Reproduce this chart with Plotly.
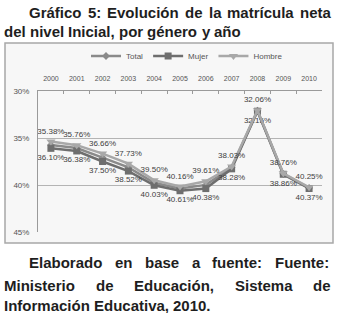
import plotly.graph_objects as go

# ---------------- data ----------------
years = ["2000", "2001", "2002", "2003", "2004", "2005", "2006", "2007", "2008", "2009", "2010"]
hombre = [35.38, 35.76, 36.66, 37.73, 39.50, 40.16, 39.61, 38.03, 32.06, 38.76, 40.25]
total = [35.74, 36.07, 37.08, 38.12, 39.76, 40.38, 39.99, 38.15, 32.10, 38.81, 40.31]
mujer = [36.10, 36.38, 37.50, 38.52, 40.03, 40.61, 40.38, 38.28, 32.15, 38.86, 40.37]
y_ticks = [30, 35, 40, 45]
y_tick_labels = ["30%", "35%", "40%", "45%"]

title_line1 = "Gráfico 5: Evolución de la matrícula neta"
title_line2 = "del nivel Inicial, por género y año"
foot_line1 = "Elaborado en base a fuente: Fuente:"
foot_line2 = "Ministerio de Educación, Sistema de"
foot_line3 = "Información Educativa, 2010."

# ---------------- geometry ----------------
W, H = 338, 313
L, R, T, B = 38, 16, 91, 81
PW = W - L - R
PH = H - T - B


def px(x):
    return (x - L) / PW


def py(y):
    return (H - B - y) / PH


# Arial / Liberation Sans Bold advance widths (per 1000 em)
CW = {" ": 278, ",": 278, ".": 278, ":": 333,
      "A": 722, "E": 667, "F": 611, "G": 778, "I": 278, "M": 833, "S": 667,
      "a": 556, "b": 611, "c": 556, "d": 611, "e": 556, "f": 333, "g": 611,
      "i": 278, "l": 278, "m": 889, "n": 611, "o": 611, "p": 611, "r": 389,
      "s": 556, "t": 333, "u": 611, "v": 556, "y": 556,
      "á": 556, "é": 556, "í": 278, "ó": 611, "ñ": 611}


def wwidth(word, size):
    return sum(CW.get(c, 556) for c in word) * size / 1000.0


FS = 15
annotations = []


def add_line(text, x0, y, x1=None, size=FS):
    words = text.split(" ")
    widths = [wwidth(w, size) for w in words]
    if x1 is None or len(words) < 2:
        gap = CW[" "] * size / 1000.0
    else:
        gap = (x1 - x0 - sum(widths)) / (len(words) - 1)
    x = x0
    for w, wd in zip(words, widths):
        annotations.append(dict(
            text=w, x=px(x - 1), y=py(y), xref="paper", yref="paper",
            xanchor="left", yanchor="middle", showarrow=False,
            font=dict(family="Liberation Sans, Arial, sans-serif", size=size,
                      color="#1e1e1e", weight="bold"),
        ))
        x += wd + gap


add_line(title_line1, 28, 12, 330)
add_line(title_line2, 3, 32)
add_line(foot_line1, 28, 262, 328)
add_line(foot_line2, 3, 285, 330)
add_line(foot_line3, 3, 305)

label_font = dict(family="Liberation Sans, Arial, sans-serif", size=8, color="#404040")

fig = go.Figure()
fig.add_trace(go.Scatter(
    x=years, y=total, name="Total", mode="lines+markers",
    line=dict(color="#8a8a8a", width=2.5),
    marker=dict(symbol="diamond", size=6, color="#8a8a8a"),
    cliponaxis=False,
))
fig.add_trace(go.Scatter(
    x=years, y=mujer, name="Mujer", mode="lines+markers+text",
    line=dict(color="#6e6e6e", width=2.5),
    marker=dict(symbol="square", size=7, color="#6e6e6e"),
    texttemplate="%{y:.2f}%", textposition="bottom center", textfont=label_font,
    cliponaxis=False,
))
fig.add_trace(go.Scatter(
    x=years, y=hombre, name="Hombre", mode="lines+markers+text",
    line=dict(color="#a8a8a8", width=2.5),
    marker=dict(symbol="triangle-down", size=8, color="#a8a8a8"),
    texttemplate="%{y:.2f}%", textposition="top center", textfont=label_font,
    cliponaxis=False,
))

shapes = [dict(
    type="rect", xref="paper", yref="paper",
    x0=px(5), x1=px(333), y0=py(43), y1=py(243),
    line=dict(color="#a8a8a8", width=1.5), fillcolor="#f7f7f7", layer="below",
)]

fig.update_layout(
    width=W, height=H,
    margin=dict(l=L, r=R, t=T, b=B, pad=0),
    paper_bgcolor="white", plot_bgcolor="rgba(0,0,0,0)",
    font=dict(family="Liberation Sans, Arial, sans-serif", size=8, color="#555555"),
    showlegend=True,
    legend=dict(orientation="h", x=px(86), y=py(56), xanchor="left", yanchor="middle",
                bgcolor="rgba(0,0,0,0)", font=dict(size=8, color="#555555"),
                itemwidth=30, traceorder="normal"),
    annotations=annotations,
    shapes=shapes,
    xaxis=dict(
        type="category", side="top", range=[-0.5, 10.5],
        tickson="boundaries", ticks="inside", ticklen=3, tickcolor="#9a9a9a",
        showline=True, linecolor="#9a9a9a", linewidth=1, showgrid=False,
        tickangle=0, tickfont=dict(size=7, color="#555555"), ticklabelstandoff=6,
        fixedrange=True,
    ),
    yaxis=dict(
        range=[45, 30], autorange=False,
        tickvals=y_ticks, ticktext=y_tick_labels,
        showgrid=True, gridcolor="#b4b4b4", gridwidth=1,
        showline=True, linecolor="#9a9a9a", linewidth=1, zeroline=False,
        ticks="", tickfont=dict(size=8, color="#555555"), ticklabelstandoff=6,
        fixedrange=True,
    ),
)

fig.write_html(
    "out.html",
    config={"displayModeBar": False},
    post_script="document.body.style.margin='0';document.body.style.padding='0';",
)
